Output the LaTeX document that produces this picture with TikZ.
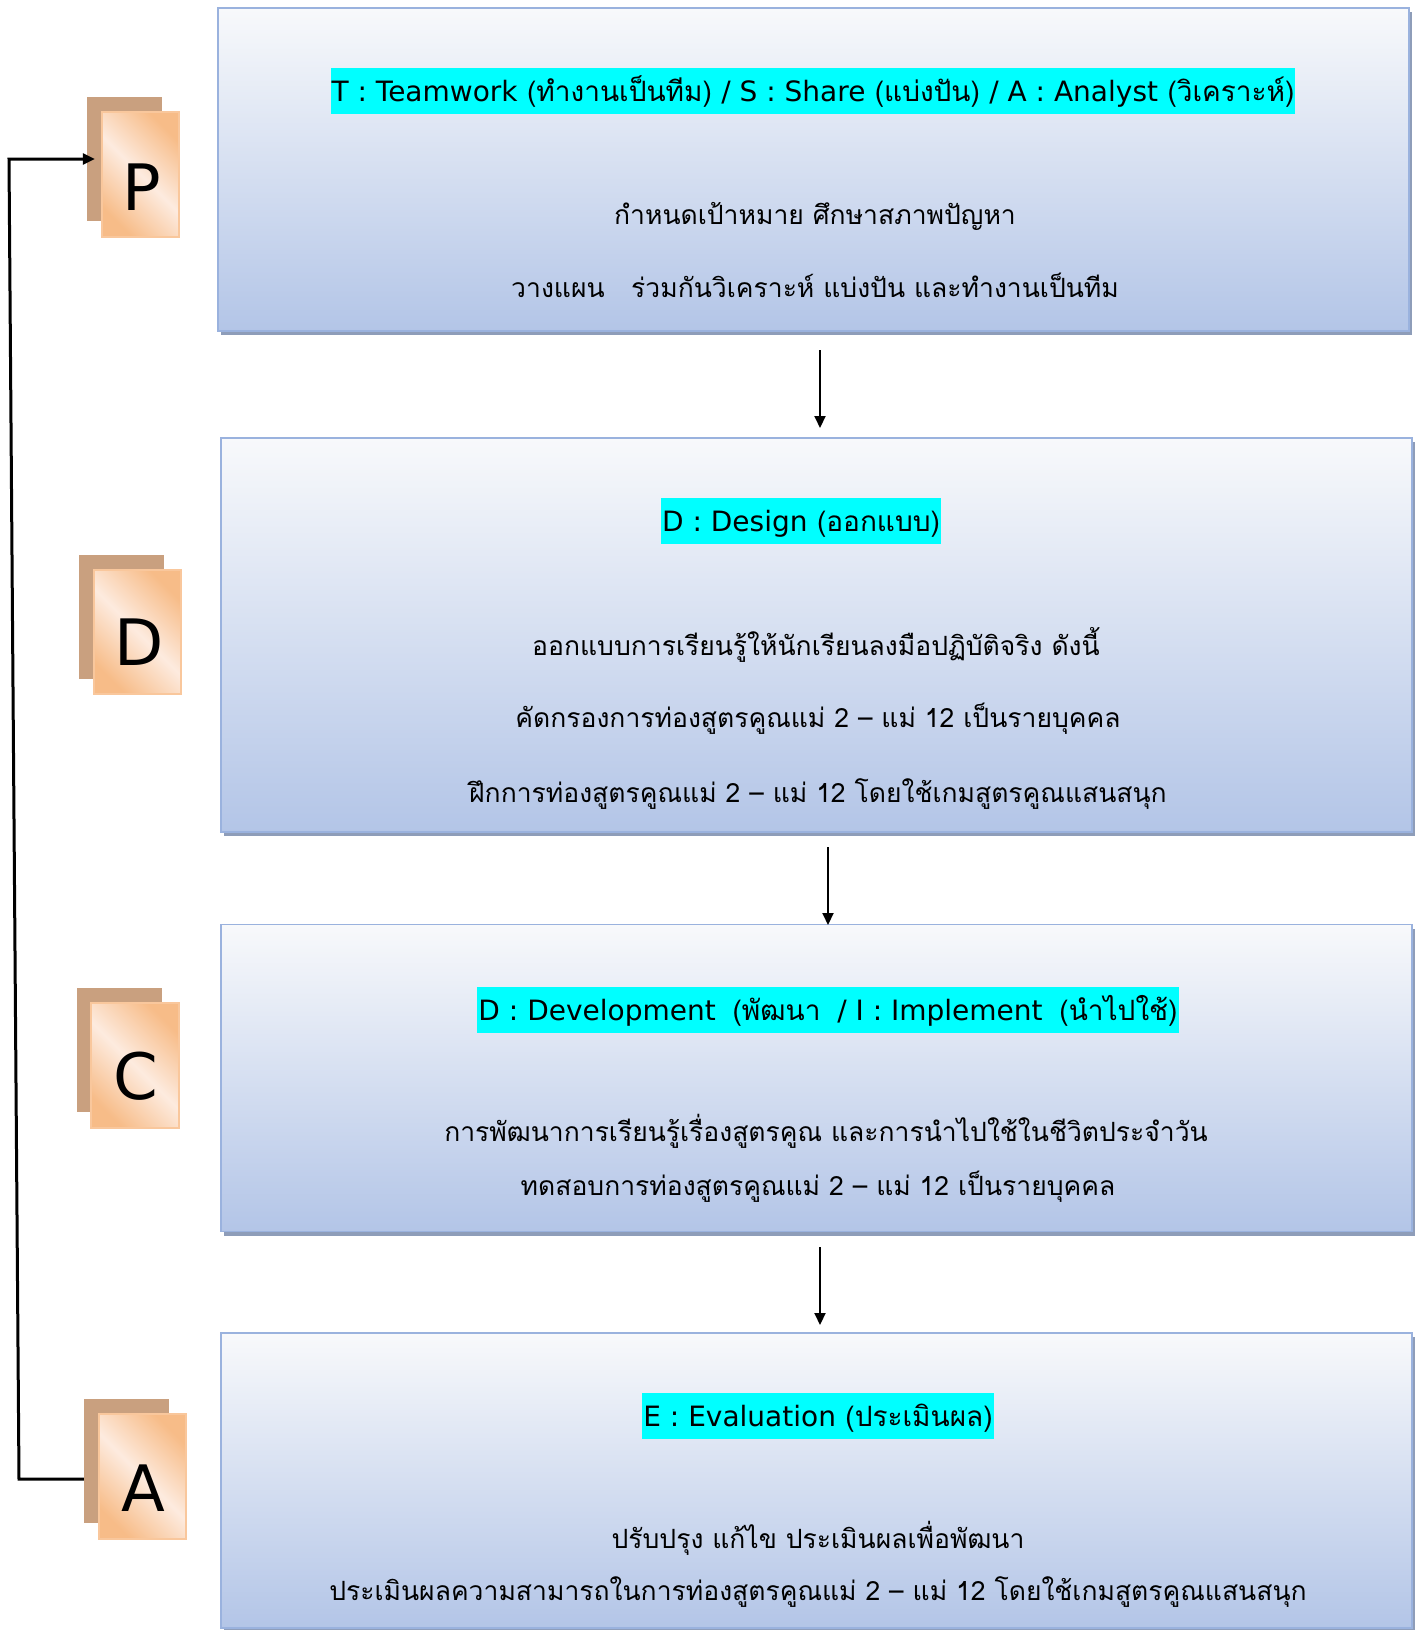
\documentclass[tikz,border=0pt]{standalone}
\usepackage{fontspec}
\setmainfont[Script=Thai]{Loma}
\newfontfamily\latf{DejaVu Sans}
\usetikzlibrary{shadows,arrows.meta}
\definecolor{boxtop}{HTML}{F8F9FB}
\definecolor{boxbot}{HTML}{B3C5E7}
\definecolor{boxline}{HTML}{9AB2DE}
\definecolor{boxshadow}{HTML}{8E9DB9}
\definecolor{tileback}{HTML}{C9A07F}
\definecolor{tiledark}{HTML}{F7BC88}
\definecolor{tilelight}{HTML}{FDEBDF}
\definecolor{tileline}{HTML}{F9C79C}
\definecolor{hilite}{HTML}{00FFFF}
\newcommand{\thb}[1]{{#1}}
\tikzset{
  stagebox/.style={draw=boxline, line width=1.5pt, top color=boxtop, bottom color=boxbot,
    general shadow={fill=boxshadow, shadow xshift=3pt, shadow yshift=-4pt}},
  tileback/.style={fill=tileback, draw=none},
  tilefront/.style={draw=tileline, line width=1.5pt, left color=tiledark, right color=tiledark, middle color=tilelight, shading angle=135},
  letter/.style={font=\latf\fontsize{64}{70}\selectfont, anchor=base, inner sep=0pt},
  head/.style={fill=hilite, font=\fontsize{28}{32}\selectfont, inner xsep=1pt, inner ysep=3pt, text height=30pt, text depth=10pt},
  body/.style={font=\fontsize{26.5}{32}\selectfont, anchor=base, inner sep=0pt},
  flow/.style={-{Triangle[length=12pt,width=11pt]}, line width=2pt},
  loop/.style={line width=3pt},
}
\begin{document}
\begin{tikzpicture}[x=1pt,y=-1pt]
\useasboundingbox (0,0) rectangle (1422,1630);
\fill[white] (0,0) rectangle (1422,1630);
% boxes
\node[stagebox, minimum width=1191pt, minimum height=323pt] (b1) at (813.5,169.5) {};
\node[stagebox, minimum width=1191pt, minimum height=394pt] (b2) at (816.5,635) {};
\node[stagebox, minimum width=1191pt, minimum height=307pt] (b3) at (816.5,1078) {};
\node[stagebox, minimum width=1191pt, minimum height=295pt] (b4) at (816.5,1480.5) {};
% tiles
\node[tileback, minimum width=75pt, minimum height=124pt] (Pb) at (124.5,159) {};
\node[tilefront, minimum width=77pt, minimum height=125pt] (P) at (140.5,174.5) {};
\node[letter] (Pl) at (142,210) {P};
\node[tileback, minimum width=85pt, minimum height=124pt] (Db) at (121.5,617) {};
\node[tilefront, minimum width=87pt, minimum height=124pt] (D) at (137.5,632) {};
\node[letter] (Dl) at (139,665) {D};
\node[tileback, minimum width=85pt, minimum height=124pt] (Cb) at (119.5,1050) {};
\node[tilefront, minimum width=88pt, minimum height=125pt] (C) at (135,1065.5) {};
\node[letter] (Cl) at (136,1099) {C};
\node[tileback, minimum width=85pt, minimum height=124pt] (Ab) at (126.5,1461) {};
\node[tilefront, minimum width=87pt, minimum height=125pt] (A) at (142.5,1476.5) {};
\node[letter] (Al) at (143,1511) {A};
% headings
\node[head] (h1) at (813,91) {{\latf T : Teamwork} \thb{(ทำงานเป็นทีม)} {\latf / S : Share} \thb{(แบ่งปัน)} {\latf / A : Analyst} \thb{(วิเคราะห์)}};
\node[head] (h2) at (801,521) {{\latf D : Design} \thb{(ออกแบบ)}};
\node[head] (h3) at (828,1010) {{\latf D : Development}\hspace{0.6em}\thb{(พัฒนา}\hspace{0.6em}{\latf / I : Implement}\hspace{0.6em}\thb{(นำไปใช้)}};
\node[head] (h4) at (818,1416) {{\latf E : Evaluation} \thb{(ประเมินผล)}};
% body
\node[body] (t11) at (815,224) {กำหนดเป้าหมาย ศึกษาสภาพปัญหา};
\node[body] (t12) at (815,297) {วางแผน\hspace{1em}ร่วมกันวิเคราะห์ แบ่งปัน และทำงานเป็นทีม};
\node[body] (t21) at (816,655) {ออกแบบการเรียนรู้ให้นักเรียนลงมือปฏิบัติจริง ดังนี้};
\node[body] (t22) at (818,727) {คัดกรองการท่องสูตรคูณแม่ 2 – แม่ 12 เป็นรายบุคคล};
\node[body] (t23) at (818,802) {ฝึกการท่องสูตรคูณแม่ 2 – แม่ 12 โดยใช้เกมสูตรคูณแสนสนุก};
\node[body] (t31) at (826,1141) {การพัฒนาการเรียนรู้เรื่องสูตรคูณ และการนำไปใช้ในชีวิตประจำวัน};
\node[body] (t32) at (818,1195) {ทดสอบการท่องสูตรคูณแม่ 2 – แม่ 12 เป็นรายบุคคล};
\node[body] (t41) at (818,1548) {ปรับปรุง แก้ไข ประเมินผลเพื่อพัฒนา};
\node[body] (t42) at (818,1600) {ประเมินผลความสามารถในการท่องสูตรคูณแม่ 2 – แม่ 12 โดยใช้เกมสูตรคูณแสนสนุก};
% connectors between boxes
\coordinate (a1s) at (820,350);
\coordinate (a1e) at (820,428);
\coordinate (a2s) at (828,847);
\coordinate (a2e) at (828,925);
\coordinate (a3s) at (820,1247);
\coordinate (a3e) at (820,1325);
\draw[flow] (a1s) -- (a1e);
\draw[flow] (a2s) -- (a2e);
\draw[flow] (a3s) -- (a3e);
% loop back A -> P
\coordinate (lb) at (19,1479);
\coordinate (lt) at (9,159);
\draw[loop] ([yshift=-18pt]Ab.west) -- (lb) -- (lt) -- (Pb.west);
\draw[flow, line width=2.5pt, shorten >=-8pt] (lt) -- (Pb.west);
\end{tikzpicture}
\end{document}
